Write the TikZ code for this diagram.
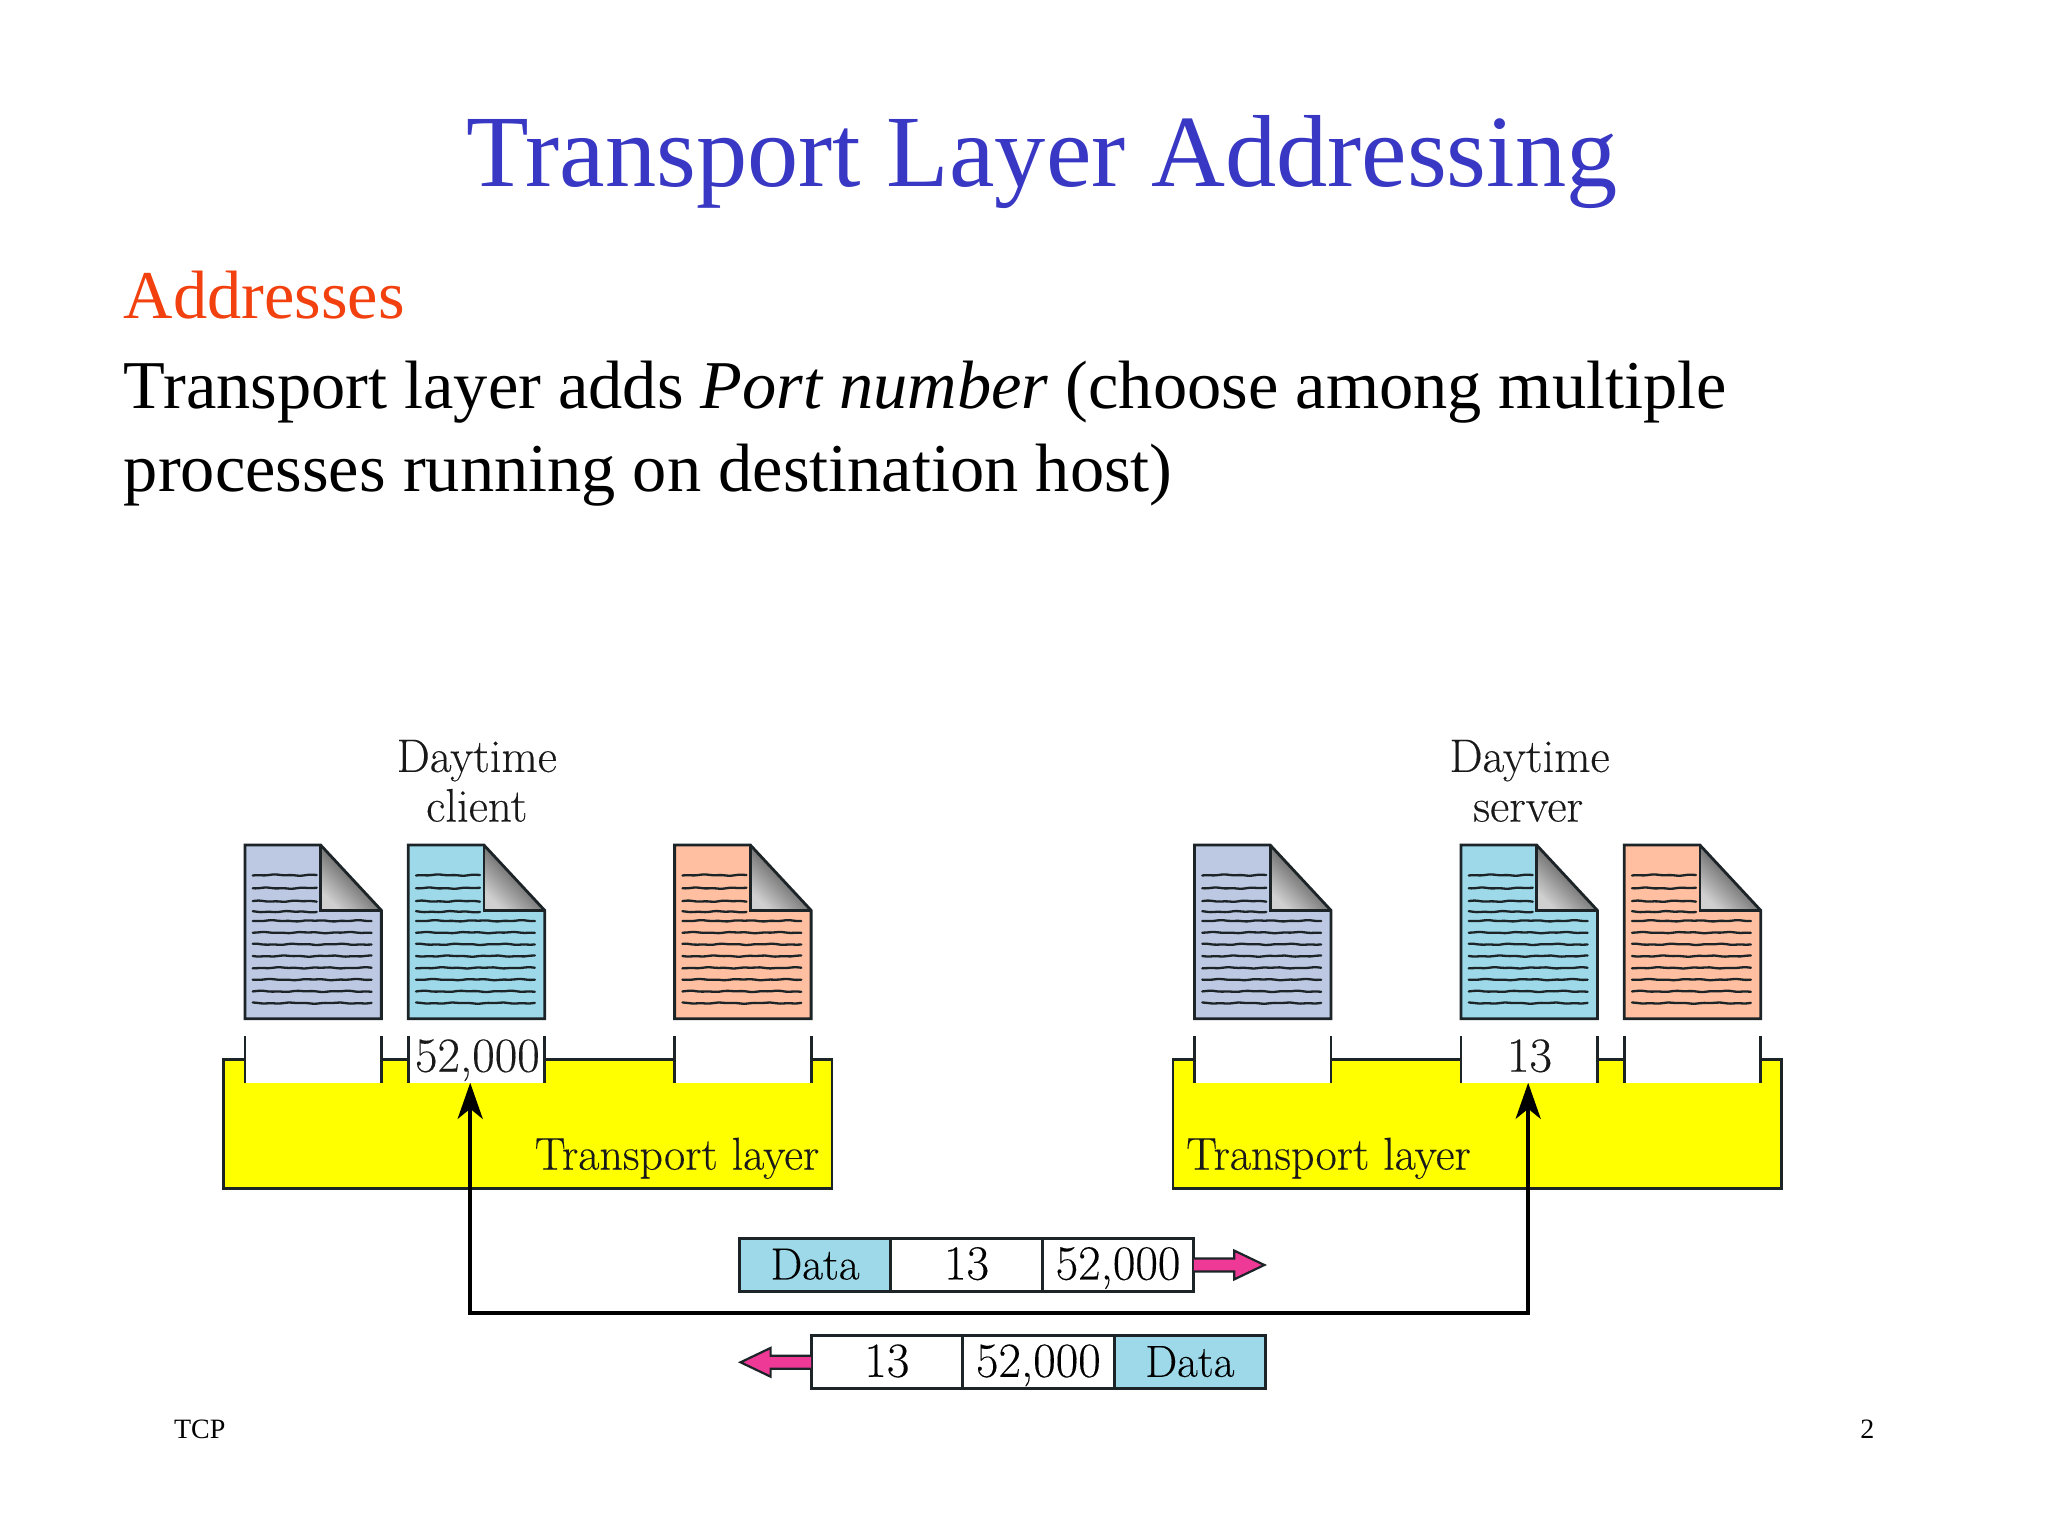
\documentclass[tikz,border=0pt]{standalone}
\usepackage{fontspec}
\newfontfamily\slidefont{Liberation Serif}
\newfontfamily\labfont[FakeBold=0.25]{Latin Modern Roman}
\usetikzlibrary{arrows.meta,calc}
\definecolor{titleblue}{HTML}{3838C4}
\definecolor{addrred}{HTML}{F2400F}
\definecolor{docblue}{HTML}{BDC9E3}
\definecolor{doccyan}{HTML}{9DD9E8}
\definecolor{docsalmon}{HTML}{FFBFA0}
\definecolor{linkpink}{HTML}{EE3A96}
\definecolor{inkc}{HTML}{1C2428}
\definecolor{pureyellow}{RGB}{255,255,0}
\definecolor{foldlight}{HTML}{D0D0D0}
\definecolor{foldmid}{HTML}{777777}
\definecolor{folddark}{HTML}{222222}
\def\un{0.653pt}
\tikzset{
  x=0.653pt,y=-0.653pt,
  outline/.style={draw=inkc,line width=1.4pt},
  wave/.style={draw=inkc,line width=1.15pt,line cap=round},
  slidetext/.style={anchor=base west,inner sep=0pt,font=\slidefont\fontsize{34.2}{40}\selectfont,text=black},
  lab/.style={inner sep=0pt,font=\labfont\fontsize{23.5}{25}\selectfont,text=black!90},
  cell/.style={outline,outer sep=0pt,minimum width=116*\un,minimum height=40.5*\un,inner sep=0pt,anchor=west,text height=17pt,text depth=2.5pt,font=\labfont\fontsize{24.5}{25}\selectfont},
  datacell/.style={cell,fill=doccyan,font=\labfont\fontsize{22.5}{25}\selectfont},
  layerbox/.style={outline,outer sep=0pt,fill=pureyellow,minimum width=466*\un,minimum height=99*\un,anchor=north west,inner sep=0pt},
  layertext/.style={lab,font=\labfont\fontsize{23}{25}\selectfont},
  pinkarrow/.style={draw=inkc,line width=1.1pt,fill=linkpink,line join=miter},
  busline/.style={line width=2pt,black,-{Stealth[length=18pt,width=12.5pt,inset=5pt]}},
}
\newcommand\wl[4]{\draw[wave] plot[smooth,samples=24,domain=#1:#2,variable=\t] (\t,{#3+0.3*sin(11*\t+#4)+0.22*sin(27*\t+2*#4)});}
\newcommand\docu[2]{%
  \begin{scope}[shift={(#1,647)}]
    \fill[#2] (0,0) -- (58,0) -- (104.5,50) -- (104.5,133) -- (0,133) -- cycle;
    \shade[bottom color=foldlight,middle color=foldmid,top color=folddark,shading angle=-45] (58,0) -- (104.5,50) -- (58,50) -- cycle;
    \draw[outline,line join=miter] (0,0) -- (58,0) -- (104.5,50) -- (104.5,133) -- (0,133) -- cycle;
    \draw[outline] (58,0) -- (58,50) -- (104.5,50);
    \wl{6}{55}{23}{10}\wl{6}{55}{33}{95}\wl{6}{55}{43}{170}\wl{6}{55}{51}{250}
    \wl{6}{97}{58}{40}\wl{6}{97}{67}{120}\wl{6}{97}{76}{200}\wl{6}{97}{85}{280}
    \wl{6}{97}{94}{330}\wl{6}{97}{103}{60}\wl{6}{97}{112}{145}\wl{6}{97}{121}{225}
  \end{scope}}
\newcommand\slot[3]{%
  \node[fill=white,inner sep=0pt,outer sep=0pt,minimum width=#2*\un-#1*\un,minimum height=22*\un,anchor=north west] (#3) at (#1,807) {};
  \draw[outline] (#1,793) -- (#1,829) (#2,793) -- (#2,829);}
\begin{document}
\begin{tikzpicture}
\useasboundingbox (0,0) rectangle (1568,1176);
\fill[white] (0,0) rectangle (1568,1176);
% slide text
\node[slidetext,text=titleblue,font=\slidefont\fontsize{51.2}{60}\selectfont] (title) at (357,143) {Transport Layer Addressing};
\node[slidetext,text=addrred] (addr) at (94.5,244) {Addresses};
\node[slidetext] (l1) at (94.5,312.5) {Transport layer adds \textit{Port number} (choose among multiple};
\node[slidetext] (l2) at (94.5,376) {processes running on destination host)};
\node[slidetext,font=\slidefont\fontsize{14}{16}\selectfont] (foot) at (133,1101.5) {TCP};
\node[slidetext,font=\slidefont\fontsize{14}{16}\selectfont] (num) at (1424,1101.5) {2};
% documents
\docu{187.5}{docblue}\docu{312.5}{doccyan}\docu{516.5}{docsalmon}
\docu{914.5}{docblue}\docu{1118.5}{doccyan}\docu{1243.5}{docsalmon}
% transport layers
\node[layerbox] (tl) at (171,811) {};
\node[layerbox] (tr) at (898,811) {};
\slot{187.5}{292}{sa}\slot{312.5}{417}{sb}\slot{516.5}{621}{sc}
\slot{914.5}{1019}{sd}\slot{1118.5}{1223}{se}\slot{1243.5}{1348}{sf}
\node[lab,anchor=base,font=\labfont\fontsize{24.5}{25}\selectfont] (pa) at (365.5,820.5) {52,000};
\node[lab,anchor=base,font=\labfont\fontsize{24.5}{25}\selectfont] (pb) at (1171,820.5) {13};
\node[layertext,anchor=base east] (tlt) at (627.5,895.5) {Transport layer};
\node[layertext,anchor=base west] (trt) at (908,895.5) {Transport layer};
\node[lab,anchor=base] (dc1) at (365,591) {Daytime};
\node[lab,anchor=base] (dc2) at (365,629) {client};
\node[lab,anchor=base] (ds1) at (1171,591) {Daytime};
\node[lab,anchor=base] (ds2) at (1170,629) {server};
% connector
\coordinate (endL) at (360,829);
\coordinate (endR) at (1170,829);
\coordinate (bus) at (765,1005.5);
\draw[busline] (bus) -| (endL);
\draw[busline] (bus) -| (endR);
% packets
\node[datacell] (a1) at (566,968.5) {Data};
\node[cell] (a2) at (a1.east) {13};
\node[cell] (a3) at (a2.east) {52,000};
\node[cell] (b1) at (621,1043) {13};
\node[cell] (b2) at (b1.east) {52,000};
\node[datacell] (b3) at (b2.east) {Data};
\begin{scope}[shift={(a3.east)}]
  \draw[pinkarrow] (0,-5) -- (31,-5) -- (31,-11) -- (54,0) -- (31,11) -- (31,5) -- (0,5);
\end{scope}
\begin{scope}[shift={(b1.west)}]
  \draw[pinkarrow] (0,-5) -- (-31,-5) -- (-31,-11) -- (-54,0) -- (-31,11) -- (-31,5) -- (0,5);
\end{scope}
\end{tikzpicture}
\end{document}
